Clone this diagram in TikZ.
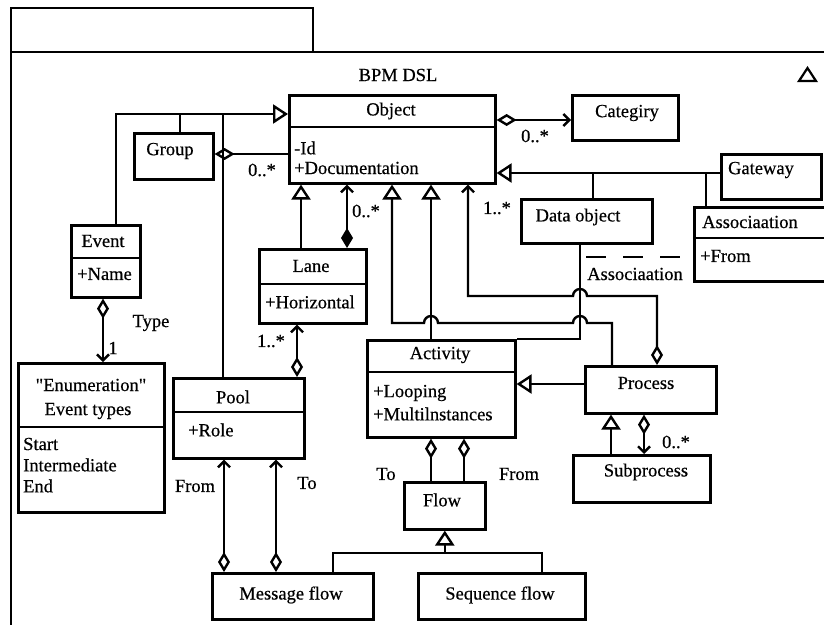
\documentclass[tikz,border=0pt]{standalone}
\usepackage{fontspec}
\setmainfont{Liberation Serif}[FakeBold=0.5]
\usepackage{tikz}
\usetikzlibrary{arrows.meta}

\begin{document}
\begin{tikzpicture}[x=1pt, y=-1pt, line width=2.4pt,
    font=\fontsize{18.5}{20}\selectfont,
    every node/.style={inner sep=0pt},
    box/.style={draw, line width=2.6pt, anchor=north west},
    sep/.style={line width=2.6pt},
    gen/.style={-{Triangle[open, length=15pt, width=19pt]}},
    dia/.style={{Diamond[open, length=20pt, width=12pt]}-},
    agg/.style={{Diamond[open, length=20pt, width=12pt]}-{Straight Barb[length=6pt, width=12pt]}},
    comp/.style={{Diamond[length=20pt, width=12pt]}-{Straight Barb[length=6pt, width=12pt]}}]
    \clip (0,0) rectangle (824,624);
    % Rahmen
    \draw[line width=2.8pt] (11,630) -- (11,8) -- (313,8) -- (313,52);
    \draw[line width=2.8pt] (11,52) -- (830,52);
    \node (title) at (398,75) {BPM DSL};
    \draw[line width=2.2pt] (799,81) -- (816,81) -- (807.5,68) -- cycle;

    % Object
    \node[box, minimum width=206, minimum height=88] (obj) at (288,94) {};
    \draw[sep] (obj.west |- 0,127) -- (obj.east |- 0,127);
    \node (objN) at (391,111) {Object};
    \node[anchor=west] (objA) at (293,148) {-Id};
    \node[anchor=west] (objB) at (293,168) {+Documentation};
    % Categiry
    \node[box, minimum width=106, minimum height=45] (cat) at (571,94) {};
    \node (catN) at (627,113) {Categiry};
    % Gateway
    \node[box, minimum width=100, minimum height=45] (gw) at (720,153) {};
    \node (gwN) at (761,170) {Gateway};
    % Associaation
    \node[box, minimum width=140, minimum height=74] (asc) at (693,206) {};
    \draw[sep] (asc.west |- 0,238) -- (asc.east |- 0,238);
    \node[anchor=west] (ascN) at (701,222) {Associaation};
    \node[anchor=west] (ascA) at (699,256) {+From};
    % Data object
    \node[box, minimum width=131, minimum height=44] (dat) at (520,198) {};
    \node (datN) at (578,217) {Data object};
    % Group
    \node[box, minimum width=79, minimum height=46] (grp) at (133,132) {};
    \node (grpN) at (170,151) {Group};
    % Event
    \node[box, minimum width=69, minimum height=72] (event) at (70,224) {};
    \draw[sep] (event.west |- 0,258) -- (event.east |- 0,258);
    \node (evN) at (103,241) {Event};
    \node[anchor=west] (evA) at (76,274) {+Name};
    % Enumeration
    \node[box, minimum width=146, minimum height=149] (enum) at (17,362) {};
    \draw[sep] (enum.west |- 0,427) -- (enum.east |- 0,427);
    \node (enN) at (91,385) {\textquotedbl Enumeration\textquotedbl};
    \node (enT) at (88,411) {Event types};
    \node[anchor=west] (enA) at (22,444) {Start};
    \node[anchor=west] (enB) at (22,465) {Intermediate};
    \node[anchor=west] (enC) at (22,486) {End};
    % Lane
    \node[box, minimum width=107, minimum height=74] (lane) at (258,248) {};
    \draw[sep] (lane.west |- 0,284) -- (lane.east |- 0,284);
    \node (laneN) at (311,266) {Lane};
    \node[anchor=west] (laneA) at (264,302) {+Horizontal};
    % Pool
    \node[box, minimum width=131, minimum height=80] (pool) at (172,377) {};
    \draw[sep] (pool.west |- 0,412) -- (pool.east |- 0,412);
    \node (poolN) at (233,397) {Pool};
    \node[anchor=west] (poolA) at (187,430) {+Role};
    % Activity
    \node[box, minimum width=148, minimum height=97] (act) at (366,339) {};
    \draw[sep] (act.west |- 0,372) -- (act.east |- 0,372);
    \node (actN) at (440,355) {Activity};
    \node[anchor=west] (actA) at (372,393) {+Looping};
    \node[anchor=west] (actB) at (372,414) {+Multilnstances};
    % Process
    \node[box, minimum width=131, minimum height=47] (proc) at (584,365) {};
    \node (procN) at (646,383) {Process};
    \node[box, minimum width=137, minimum height=47] (sub) at (572,454) {};
    \node (subN) at (646,472) {Subprocess};
    % Flow
    \node[box, minimum width=81, minimum height=47] (flow) at (403,481) {};
    \node (flowN) at (442,500) {Flow};
    \node[box, minimum width=161, minimum height=46] (msg) at (211,572) {};
    \node (msgN) at (291,595) {Message flow};
    \node[box, minimum width=167, minimum height=46] (seq) at (417,572) {};
    \node (seqN) at (500,595) {Sequence flow};

    % Vererbung links
    \coordinate (busE) at (116,114);
    \coordinate (busG) at (180,114);
    \coordinate (busP) at (223,114);
    \draw[gen] (event.north -| busE) -- (busE) -- (obj.west |- busE);
    \draw (grp.north -| busG) -- (busG);
    \draw (pool.north -| busP) -- (busP);
    \draw[dia] (grp.east |- 0,154) -- (obj.west |- 0,154);
    \node (m1) at (262,170) {0..*};
    % Vererbung rechts
    \coordinate (busD) at (593,173);
    \coordinate (busA) at (706,173);
    \draw[gen] (gw.west |- busD) -- (obj.east |- busD);
    \draw (dat.north -| busD) -- (busD);
    \draw (asc.north -| busA) -- (busA);
    \draw[agg] (obj.east |- 0,120) -- (cat.west |- 0,120);
    \node (m2) at (535,136) {0..*};

    % unter Object
    \draw[gen] (lane.north -| 301,0) -- (obj.south -| 301,0);
    \draw[comp] (lane.north -| 347,0) -- (obj.south -| 347,0);
    \node (m3) at (366,211) {0..*};
    \draw[gen] (act.north -| 431,0) -- (obj.south -| 431,0);
    \draw[gen] (proc.north -| 612,0) -- (612,323) -- (587,323)
        arc[start angle=0, end angle=180, radius=7pt] -- (438,323)
        arc[start angle=0, end angle=180, radius=7pt] -- (392,323) -- (obj.south -| 392,0);
    \draw[agg] (proc.north -| 657,0) -- (657,296) -- (587,296)
        arc[start angle=0, end angle=180, radius=7pt] -- (468,296) -- (obj.south -| 468,0);
    \node (m4) at (497,208) {1..*};
    \draw (dat.south -| 580,0) |- (act.north east);
    \draw[dashed, dash pattern=on 20pt off 17pt] (586,257) -- (681,257);
    \node (assoc) at (635,274) {Associaation};

    % Process
    \draw[gen] (proc.west |- 0,384) -- (act.east |- 0,384);
    \draw[gen] (sub.north -| 611,0) -- (proc.south -| 611,0);
    \draw[agg] (proc.south -| 644,0) -- (sub.north -| 644,0);
    \node (m5) at (676,442) {0..*};

    % Event, Pool
    \draw[agg] (event.south -| 103,0) -- (enum.north -| 103,0);
    \node (typ) at (151,323) {Type};
    \node (m6) at (113,348) {1};
    \draw[agg] (pool.north -| 297,0) -- (lane.south -| 297,0);
    \node (m7) at (271,341) {1..*};
    \draw[agg] (msg.north -| 224,0) -- (pool.south -| 224,0);
    \draw[agg] (msg.north -| 276,0) -- (pool.south -| 276,0);
    \node (fr1) at (195,486) {From};
    \node (to1) at (307,483) {To};

    % Flow
    \draw[dia] (act.south -| 431,0) -- (flow.north -| 431,0);
    \draw[dia] (act.south -| 464,0) -- (flow.north -| 464,0);
    \node (to2) at (386,474) {To};
    \node (fr2) at (519,474) {From};
    \coordinate (busM) at (333,553);
    \coordinate (busS) at (542,553);
    \draw (msg.north -| busM) -- (busM) -- (busS) -- (seq.north -| busS);
    \draw[gen] (flow.south |- busM) -- (flow.south);
\end{tikzpicture}
\end{document}
